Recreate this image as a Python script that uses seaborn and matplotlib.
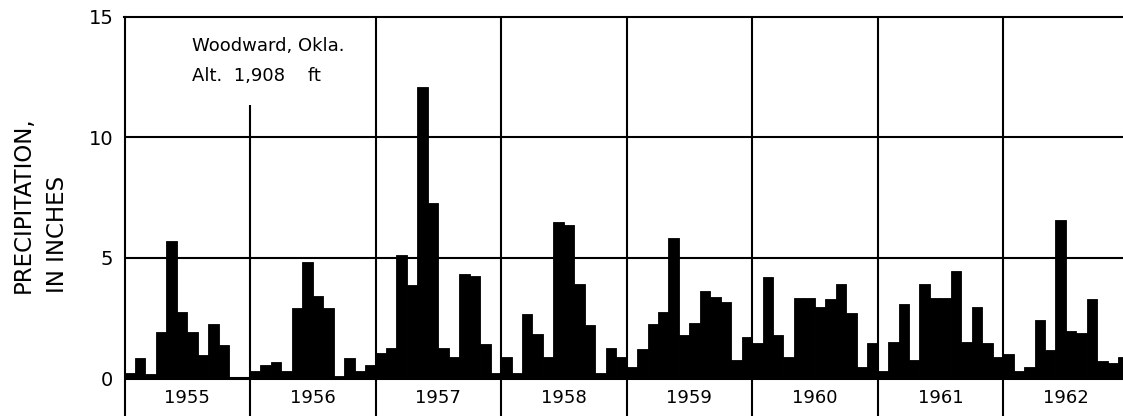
import numpy as np
import pandas as pd
import matplotlib
matplotlib.use("Agg")
import matplotlib.pyplot as plt
import seaborn as sns

# Monthly precipitation (inches), Woodward, Okla., Jan..Dec
years = [1955, 1956, 1957, 1958, 1959, 1960, 1961, 1962]
p1955 = [0.20, 0.83, 0.18, 1.92, 5.69, 2.74, 1.92, 0.97, 2.26, 1.39, 0.03, 0.03]
p1956 = [0.28, 0.53, 0.67, 0.28, 2.92, 4.83, 3.40, 2.92, 0.07, 0.83, 0.28, 0.53]
p1957 = [1.05, 1.23, 5.12, 3.85, 12.07, 7.27, 1.23, 0.86, 4.31, 4.23, 1.40, 0.22]
p1958 = [0.86, 0.22, 2.64, 1.81, 0.88, 6.46, 6.34, 3.90, 2.20, 0.22, 1.23, 0.88]
p1959 = [0.44, 1.21, 2.24, 2.72, 5.79, 1.78, 2.30, 3.60, 3.38, 3.16, 0.75, 1.71]
p1960 = [1.46, 4.20, 1.78, 0.86, 3.30, 3.30, 2.93, 3.26, 3.90, 2.68, 0.44, 1.44]
p1961 = [0.29, 1.50, 3.07, 0.75, 3.90, 3.34, 3.34, 4.43, 1.48, 2.96, 1.46, 0.86]
p1962 = [0.98, 0.29, 0.44, 2.40, 1.16, 6.55, 1.96, 1.88, 3.28, 0.70, 0.61, 0.89]
yticks = [0, 5, 10, 15]
station_line1 = "Woodward, Okla."
station_line2 = "Alt.  1,908    ft"
ylabel_line1 = "PRECIPITATION,"
ylabel_line2 = "IN INCHES"

series = [p1955, p1956, p1957, p1958, p1959, p1960, p1961, p1962]
vals = np.concatenate(series)
df = pd.DataFrame({"idx": np.arange(len(vals)), "precip": vals})

sns.set_style("white")
plt.rcParams["font.family"] = ["DejaVu Sans"]
plt.rcParams["text.color"] = "black"

W, H = 1123, 416
fig = plt.figure(figsize=(W / 100, H / 100), dpi=100)

left_px, top_px = 124.5, 16.5
month_px = 10.46
ppi = 24.1  # pixels per inch of precipitation
ax = fig.add_axes([left_px / W, 0, (W - left_px) / W, (H - top_px) / H])

sns.barplot(data=df, x="idx", y="precip", color="black", width=1.0,
            edgecolor="black", linewidth=0.6, saturation=1, ax=ax, zorder=3)

xmin = -0.5
xmax = xmin + (W - left_px) / month_px
ymin = 15 - (H - top_px) / ppi
ax.set_xlim(xmin, xmax)
ax.set_ylim(ymin, 15)

lw = 1.5
for y in (5, 10):
    ax.axhline(y, color="black", lw=lw, zorder=2)
ax.axhline(0, color="black", lw=2.2, zorder=4)

for k in range(1, len(years)):
    xb = k * 12 - 0.5
    ytop = 15 if k != 1 else 11.33
    ax.vlines(xb, ymin, ytop, color="black", lw=lw, zorder=4)

for k, yr in enumerate(years):
    ax.text(k * 12 + 5.5, -0.83, str(yr), ha="center", va="center",
            fontsize=13, color="black")

for s in ["right", "bottom"]:
    ax.spines[s].set_visible(False)
for s in ["left", "top"]:
    ax.spines[s].set_visible(True)
    ax.spines[s].set_color("black")
    ax.spines[s].set_linewidth(lw)

ax.set_xticks([])
ax.set_yticks(yticks)
ax.set_yticklabels([str(t) for t in yticks])
ax.tick_params(axis="y", length=0, pad=8, labelsize=14, colors="black")
ax.set_xlabel("")
ax.set_ylabel("")
ax.grid(False)

# station annotation
ax.text(xmin + (192 - left_px) / month_px, 15 - (46 - top_px) / ppi, station_line1,
        ha="left", va="center", fontsize=13, color="black")
ax.text(xmin + (192 - left_px) / month_px, 15 - (76 - top_px) / ppi, station_line2,
        ha="left", va="center", fontsize=13, color="black")

# y label in two lines, bottom-aligned
fig.text(23 / W, 1 - 293 / H, ylabel_line1, rotation=90, rotation_mode="anchor",
         ha="left", va="center", fontsize=16.5, color="black")
fig.text(58 / W, 1 - 293 / H, ylabel_line2, rotation=90, rotation_mode="anchor",
         ha="left", va="center", fontsize=16.5, color="black")

fig.savefig("out.png", dpi=100)
